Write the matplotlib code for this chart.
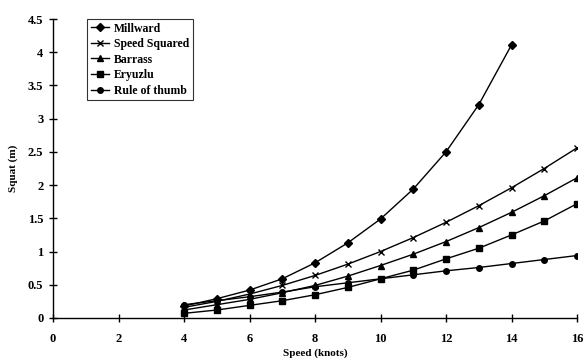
import matplotlib
matplotlib.use("Agg")
import matplotlib.pyplot as plt
from matplotlib.ticker import FuncFormatter

# ── Data ──────────────────────────────────────────────────────────────────────
speed = [4, 5, 6, 7, 8, 9, 10, 11, 12, 13, 14, 15, 16]

millward = [0.18, 0.29, 0.42, 0.59, 0.83, 1.13, 1.49, 1.94, 2.50, 3.21, 4.11]
speed_squared = [0.16, 0.25, 0.36, 0.49, 0.64, 0.81, 1.00, 1.21, 1.44, 1.69, 1.96, 2.25, 2.56]
barrass = [0.12, 0.20, 0.28, 0.38, 0.49, 0.63, 0.79, 0.96, 1.15, 1.36, 1.59, 1.84, 2.11]
eryuzlu = [0.07, 0.12, 0.19, 0.26, 0.35, 0.46, 0.59, 0.72, 0.89, 1.05, 1.25, 1.46, 1.72]
rule_of_thumb = [0.20, 0.26, 0.32, 0.39, 0.47, 0.53, 0.59, 0.65, 0.71, 0.76, 0.82, 0.88, 0.94]

series = [
    ("Millward", speed[:len(millward)], millward, "D"),
    ("Speed Squared", speed, speed_squared, "x"),
    ("Barrass", speed, barrass, "^"),
    ("Eryuzlu", speed, eryuzlu, "s"),
    ("Rule of thumb", speed, rule_of_thumb, "o"),
]

# ── Plot ──────────────────────────────────────────────────────────────────────
plt.rcParams["font.family"] = ["Liberation Serif", "DejaVu Serif"]
plt.rcParams["font.weight"] = "bold"

fig = plt.figure(figsize=(5.84, 3.61), dpi=100)
ax = fig.add_axes([53 / 584, 1 - 318 / 361, (577 - 53) / 584, (318 - 19) / 361])

for label, xs, ys, marker in series:
    ax.plot(xs, ys, color="black", linewidth=1.0, marker=marker,
            markersize=4 if marker != "x" else 5, markeredgewidth=1.0,
            label=label)

ax.set_xlim(0, 16)
ax.set_ylim(0, 4.5)
ax.set_xticks(range(0, 17, 2))
ax.set_yticks([i * 0.5 for i in range(10)])
ax.yaxis.set_major_formatter(FuncFormatter(lambda v, p: f"{v:g}"))

for side in ("top", "right"):
    ax.spines[side].set_visible(False)
for side in ("left", "bottom"):
    ax.spines[side].set_linewidth(1.0)

ax.tick_params(direction="inout", length=6, width=1.0, labelsize=9)
ax.tick_params(axis="x", pad=8)
ax.tick_params(axis="y", pad=4)

ax.set_xlabel("Speed (knots)", fontsize=8, fontweight="bold", labelpad=2)
ax.set_ylabel("Squat (m)", fontsize=8, fontweight="bold", labelpad=7)

leg = ax.legend(loc="upper left", bbox_to_anchor=(0.065, 1.0), fontsize=8.5,
                frameon=True, fancybox=False, edgecolor="black",
                handlelength=1.6, handletextpad=0.4, labelspacing=0.3,
                borderpad=0.3, borderaxespad=0.0)
leg.get_frame().set_linewidth(0.8)

fig.savefig("out.png", dpi=100)
